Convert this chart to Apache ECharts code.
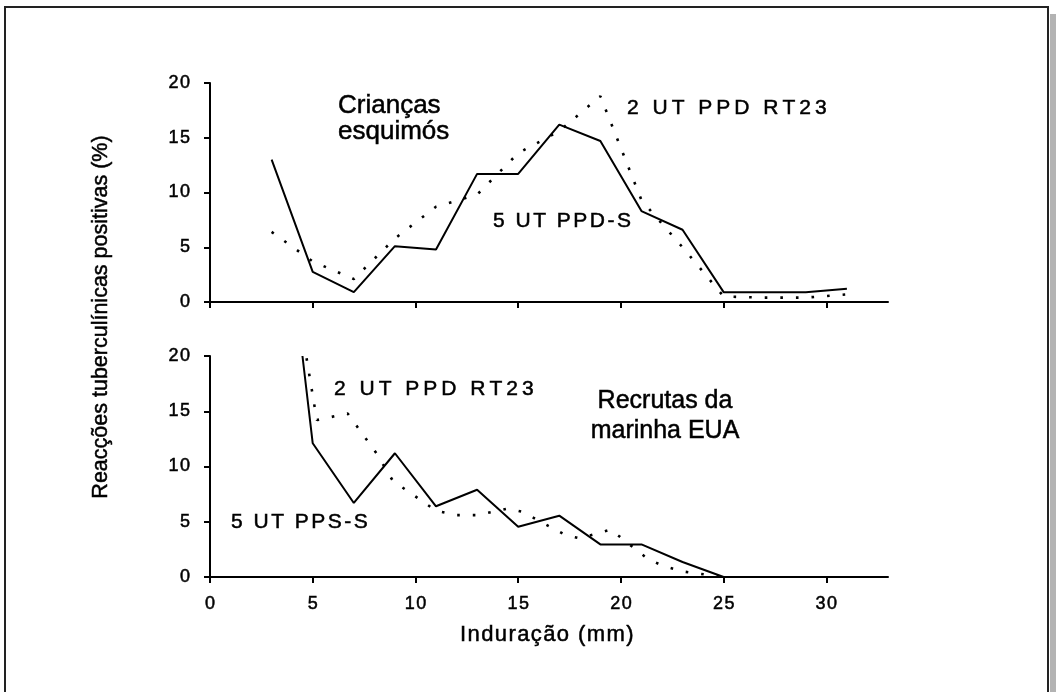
<!DOCTYPE html>
<html>
<head>
<meta charset="utf-8">
<script src="https://cdn.jsdelivr.net/npm/echarts@6/dist/echarts.min.js"></script>
<style>
html,body{margin:0;padding:0;background:#fff;}
#chart{width:1056px;height:692px;}
</style>
</head>
<body>
<div id="chart"></div>
<script>
// ---- data ----
const xTicks = [0, 5, 10, 15, 20, 25, 30];
const yTicks = [0, 5, 10, 15, 20];

// Top panel: Crianças esquimós
const topX = [3, 5, 7, 9, 11, 13, 15, 17, 19, 21, 23, 25, 27, 29, 31];
const topPPDS = [13.0, 2.75, 0.9, 5.1, 4.8, 11.7, 11.7, 16.2, 14.7, 8.3, 6.6, 0.9, 0.9, 0.9, 1.2];
const topRT23 = [6.4, 3.7, 2.1, 5.8, 8.7, 9.8, 13.6, 15.6, 18.8, 9.3, 5.0, 0.5, 0.4, 0.4, 0.7];

// Bottom panel: Recrutas da marinha EUA
const botPPSSx = [4.5, 5, 7, 9, 11, 13, 15, 17, 19, 21, 23, 25];
const botPPSS = [20, 12.1, 6.7, 11.2, 6.4, 7.9, 4.55, 5.55, 2.95, 2.95, 1.36, 0];
const botRT23x = [4.7, 5.2, 6.7, 8.1, 8.9, 11, 12, 13, 14.5, 15.2, 17.3, 18, 19.5, 21.3, 22, 23, 25];
const botRT23 = [19.8, 14.2, 14.8, 11.2, 8.7, 6.0, 5.6, 5.6, 6.2, 5.9, 3.8, 3.5, 4.3, 1.65, 1.05, 0.5, 0];

// ---- tracked (letter-spaced) text: marker "LS<a>p<b>" in the font family list ----
(function () {
  const P = CanvasRenderingContext2D.prototype;
  function wrap(name) {
    const orig = P[name];
    P[name] = function (t, x, y, mw) {
      const m = /LS(\d+)p(\d+)/.exec(this.font || '');
      if (!m) return orig.apply(this, arguments);
      const sp = parseFloat(m[1] + '.' + m[2]);
      const chars = Array.from(String(t));
      const ws = chars.map(c => this.measureText(c).width);
      const total = ws.reduce((a, b) => a + b, 0) + sp * (chars.length - 1);
      const align = this.textAlign;
      let cx = x;
      if (align === 'center') cx = x - total / 2;
      else if (align === 'right' || align === 'end') cx = x - total;
      this.textAlign = 'left';
      for (let i = 0; i < chars.length; i++) {
        orig.call(this, chars[i], cx, y);
        cx += ws[i] + sp;
      }
      this.textAlign = align;
    };
  }
  wrap('fillText');
  wrap('strokeText');
})();

const FAM = '"Liberation Sans", Arial, sans-serif';
const zip = (xs, ys) => xs.map((x, i) => [x, ys[i]]);
const INK = {fill: '#000', stroke: '#000', lineWidth: 0.5};

const chart = echarts.init(document.getElementById('chart'), null, {renderer: 'canvas'});

function xAxisCfg(grid, showLabels) {
  return {
    type: 'value', gridIndex: grid, min: 0, max: 33, interval: 5,
    splitLine: {show: false},
    axisLine: {show: true, onZero: false, lineStyle: {color: '#000', width: 2}},
    axisTick: {show: true, length: 6, customValues: xTicks, lineStyle: {color: '#000', width: 2}},
    axisLabel: {show: showLabels, customValues: xTicks, color: '#000', fontSize: 18,
      fontFamily: '"Liberation Sans", LS1p5', margin: 18, textBorderColor: '#000', textBorderWidth: 0.5}
  };
}
function yAxisCfg(grid) {
  return {
    type: 'value', gridIndex: grid, min: 0, max: 20, interval: 5,
    splitLine: {show: false},
    axisLine: {show: true, lineStyle: {color: '#000', width: 2}},
    axisTick: {show: true, length: 6, lineStyle: {color: '#000', width: 2}},
    axisLabel: {color: '#000', fontSize: 18, fontFamily: '"Liberation Sans", LS1p5', margin: 20,
      textBorderColor: '#000', textBorderWidth: 0.5}
  };
}

const solid = {color: '#000', width: 2};
const dotted = {color: '#000', width: 2.6, type: [2.6, 13], cap: 'butt'};

function label(x, y, text, font, extra) {
  return {type: 'text', silent: true, x: x, y: y,
    style: Object.assign({text: text, font: font, align: 'left', verticalAlign: 'middle'}, INK, extra || {})};
}

const option = {
  animation: false,
  backgroundColor: '#fff',
  grid: [
    {left: 210, top: 83, width: 678, height: 219},
    {left: 210, top: 356, width: 678, height: 221}
  ],
  xAxis: [xAxisCfg(0, false), xAxisCfg(1, true)],
  yAxis: [yAxisCfg(0), yAxisCfg(1)],
  series: [
    {name: '5 UT PPD-S', type: 'line', xAxisIndex: 0, yAxisIndex: 0, data: zip(topX, topPPDS), symbol: 'none', lineStyle: solid},
    {name: '2 UT PPD RT23', type: 'line', xAxisIndex: 0, yAxisIndex: 0, data: zip(topX, topRT23), symbol: 'none', lineStyle: dotted},
    {name: '5 UT PPS-S', type: 'line', xAxisIndex: 1, yAxisIndex: 1, data: zip(botPPSSx, botPPSS), symbol: 'none', lineStyle: solid},
    {name: '2 UT PPD RT23 (EUA)', type: 'line', xAxisIndex: 1, yAxisIndex: 1, data: zip(botRT23x, botRT23), symbol: 'none', lineStyle: dotted}
  ],
  graphic: [
    {type: 'rect', silent: true, z: -1, shape: {x: 1050, y: 14, width: 8, height: 700}, style: {fill: '#b3b3b3'}},
    {type: 'rect', silent: true, z: -1, shape: {x: 5, y: 7, width: 1043, height: 700}, style: {fill: 'none', stroke: '#222', lineWidth: 2}},
    Object.assign(label(101.2, 317, 'Reacções tuberculínicas positivas (%)', '21.5px ' + FAM, {align: 'center'}), {rotation: Math.PI / 2}),
    label(460, 635, 'Induração (mm)', '22px "Liberation Sans", LS1p4'),
    label(338, 93, 'Crianças\nesquimós', '26px ' + FAM, {lineHeight: 26, verticalAlign: 'top'}),
    label(627, 108.5, '2 UT PPD RT23', '21px "Liberation Sans", LS4p0'),
    label(493, 221.3, '5 UT PPD-S', '21px "Liberation Sans", LS2p5'),
    label(334, 389.5, '2 UT PPD RT23', '21px "Liberation Sans", LS4p0'),
    label(231, 521.8, '5 UT PPS-S', '21px "Liberation Sans", LS2p5'),
    label(665, 386, 'Recrutas da\nmarinha EUA', '25px ' + FAM, {lineHeight: 30, align: 'center', verticalAlign: 'top'})
  ]
};
chart.setOption(option);
</script>
</body>
</html>
